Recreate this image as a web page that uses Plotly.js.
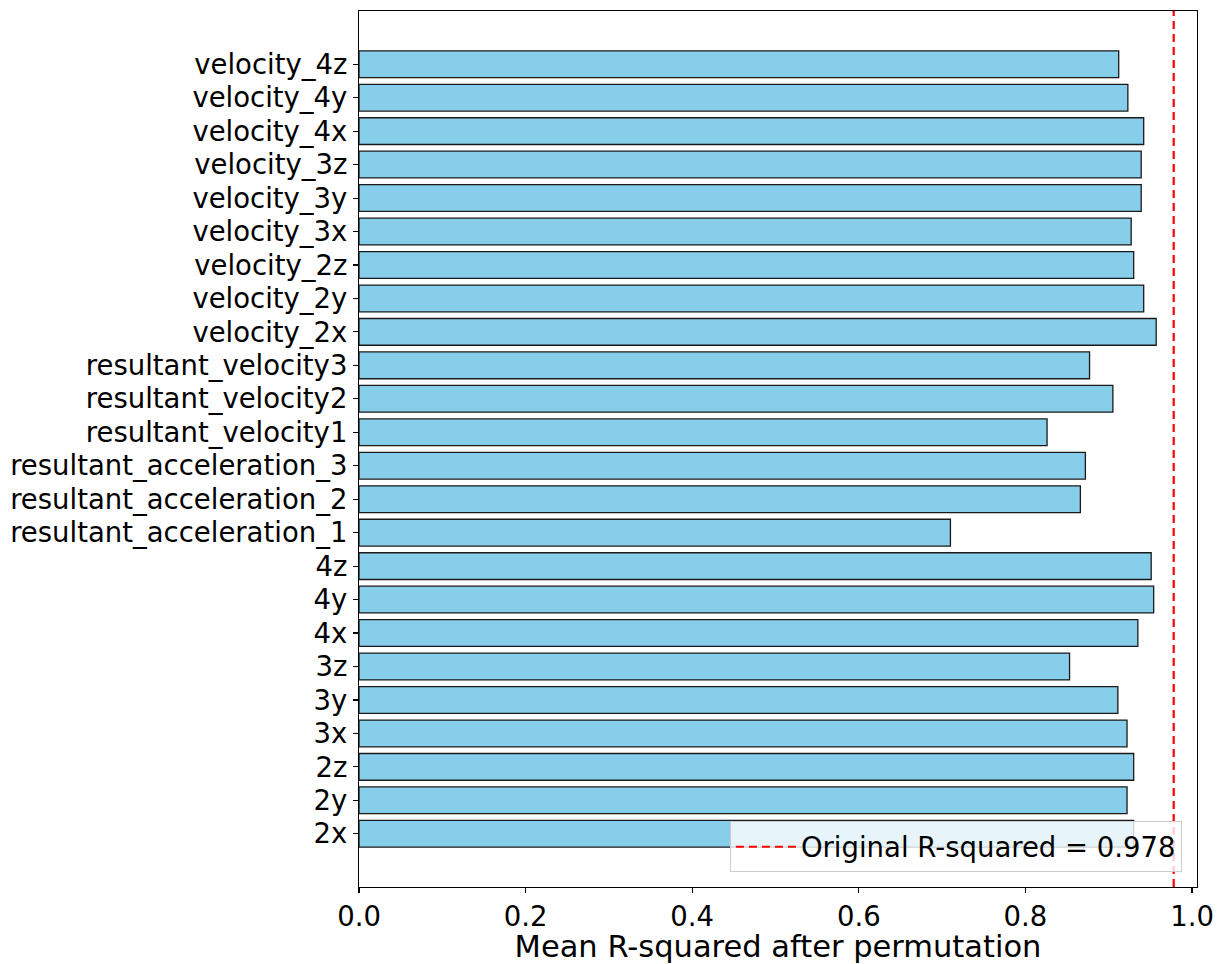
<!DOCTYPE html>
<html>
<head>
<meta charset="utf-8">
<script src="https://cdn.plot.ly/plotly-3.0.1.min.js"></script>
<style>html,body{margin:0;padding:0;background:#fff;}#chart{width:1220px;height:964px;}</style>
</head>
<body>
<div id="chart"></div>
<script>
// Feature names (bottom to top, as plotted)
const features = [
  "2x", "2y", "2z", "3x", "3y", "3z", "4x", "4y", "4z",
  "resultant_acceleration_1", "resultant_acceleration_2", "resultant_acceleration_3",
  "resultant_velocity1", "resultant_velocity2", "resultant_velocity3",
  "velocity_2x", "velocity_2y", "velocity_2z",
  "velocity_3x", "velocity_3y", "velocity_3z",
  "velocity_4x", "velocity_4y", "velocity_4z"
];
// Mean R-squared after permuting each feature
const meanR2 = [
  0.930, 0.922, 0.930, 0.922, 0.911, 0.853, 0.935, 0.954, 0.951,
  0.710, 0.866, 0.872,
  0.826, 0.905, 0.877,
  0.957, 0.942, 0.930,
  0.927, 0.939, 0.939,
  0.942, 0.923, 0.912
];
const originalR2 = 0.978;
const xTickVals = [0.0, 0.2, 0.4, 0.6, 0.8, 1.0];

const positions = features.map((_, i) => i);
const FONT = "DejaVu Sans, Liberation Sans, sans-serif";

const data = [{
  type: "bar",
  orientation: "h",
  x: meanR2,
  y: positions,
  width: 0.8,
  marker: {color: "#87CEEB", line: {color: "#1a1a1a", width: 1.3}},
  showlegend: false,
  hoverinfo: "x+text",
  text: features,
  textposition: "none"
}];

const layout = {
  width: 1220,
  height: 964,
  margin: {l: 359, r: 23, t: 11, b: 77, pad: 0},
  paper_bgcolor: "#ffffff",
  plot_bgcolor: "#ffffff",
  font: {family: FONT, color: "#000000", size: 27.5},
  bargap: 0.2,
  xaxis: {
    range: [0, 1.006],
    tickvals: xTickVals,
    ticktext: xTickVals.map(v => v.toFixed(1)),
    ticks: "outside",
    ticklen: 5,
    tickwidth: 1.1,
    tickcolor: "#000000",
    showgrid: false,
    zeroline: false,
    showline: true,
    linecolor: "#000000",
    linewidth: 1.1,
    mirror: true,
    automargin: false,
    tickfont: {family: FONT, size: 27.5, color: "#000000"},
    title: {text: "Mean R-squared after permutation", font: {family: FONT, size: 30.5, color: "#000000"}, standoff: 10}
  },
  yaxis: {
    range: [-1.59, 24.59],
    tickvals: positions,
    ticktext: features,
    ticks: "outside",
    ticklen: 5,
    tickwidth: 1.1,
    tickcolor: "#000000",
    showgrid: false,
    zeroline: false,
    showline: true,
    linecolor: "#000000",
    linewidth: 1.1,
    mirror: true,
    automargin: false,
    tickfont: {family: FONT, size: 27.5, color: "#000000"}
  },
  shapes: [{
    type: "line",
    xref: "x",
    yref: "paper",
    x0: originalR2,
    x1: originalR2,
    y0: 0,
    y1: 1,
    line: {color: "#ff0000", width: 2.2, dash: "8px,5px"},
    showlegend: true,
    name: "Original R-squared = " + originalR2.toFixed(3)
  }],
  showlegend: true,
  legend: {
    x: 0.982,
    xanchor: "right",
    y: 0.0167,
    yanchor: "bottom",
    itemwidth: 60,
    bgcolor: "rgba(255,255,255,0.8)",
    bordercolor: "#cccccc",
    borderwidth: 1,
    font: {family: FONT, size: 27.5, color: "#000000"}
  }
};

Plotly.newPlot("chart", data, layout, {displayModeBar: false, staticPlot: true});
</script>
</body>
</html>
